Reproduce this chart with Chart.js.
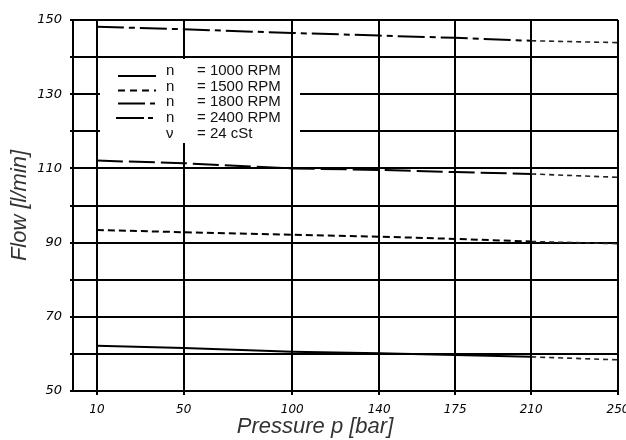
<!DOCTYPE html>
<html><head><meta charset="utf-8">
<script src="https://cdn.jsdelivr.net/npm/chart.js@4"></script>
<style>html,body{margin:0;padding:0;background:#fff}#wrap{width:626px;height:440px}</style>
</head><body><div id="wrap"><canvas id="c" width="626" height="440"></canvas></div>
<script>
// ---- data ----
const pressures = [10, 50, 100, 140, 175, 210, 250];
const flow1000 = [62.2, 61.6, 60.6, 60.2, 59.7, 59.2, 58.4];
const flow1500 = [93.4, 92.8, 92.1, 91.6, 91.0, 90.3, 89.7];
const flow1800 = [112.1, 111.4, 110.0, 109.6, 109.0, 108.5, 107.6];
const flow2400 = [148.2, 147.5, 146.5, 145.8, 145.2, 144.4, 143.9];
const seriesNames = ['n = 1000 RPM', 'n = 1500 RPM', 'n = 1800 RPM', 'n = 2400 RPM'];
const legendSymbols = ['n', 'n', 'n', 'n', 'ν'];
const legendTexts = ['= 1000 RPM', '= 1500 RPM', '= 1800 RPM', '= 2400 RPM', '= 24 cSt'];
const xTickValues = [10, 50, 100, 140, 175, 210, 250];
const yTickLabels = [50, 70, 90, 110, 130, 150];
const extrapolateFrom = 210;
const xTitle = 'Pressure p [bar]';
const yTitle = 'Flow [l/min]';

// ---- styles ----
const dashes = [[], [7, 4], [26, 6], [27, 5, 6, 5]];
const legendDashes = [[], [7, 5], [27, 5, 5, 100], [28, 4, 5, 100]];
const extDash = [5, 4];
const seriesValues = [flow1000, flow1500, flow1800, flow2400];

const datasets = seriesValues.map((vals, i) => ({
  label: seriesNames[i],
  data: pressures.map((p, k) => ({x: p, y: vals[k]})),
  borderColor: '#000',
  borderWidth: 2,
  borderDash: dashes[i],
  pointRadius: 0,
  tension: 0,
  fill: false,
  segment: {
    borderDash: ctx => ctx.p0.parsed.x >= extrapolateFrom ? extDash : undefined,
    borderWidth: ctx => ctx.p0.parsed.x >= extrapolateFrom ? 1.6 : undefined,
    borderColor: ctx => ctx.p0.parsed.x >= extrapolateFrom ? '#222' : undefined
  }
}));

const legendPlugin = {
  id: 'pumpLegend',
  beforeDatasetsDraw(chart) {
    const {ctx, scales: {x, y}} = chart;
    ctx.save();
    const by0 = Math.round(y.getPixelForValue(140)) + 2;
    const by1 = 143;
    ctx.fillStyle = '#fff';
    ctx.fillRect(100, by0, 200, by1 - by0);
    ctx.strokeStyle = '#000';
    ctx.lineWidth = 2;
    const xv = Math.round(x.getPixelForValue(100));
    ctx.beginPath(); ctx.moveTo(xv, by0); ctx.lineTo(xv, by1); ctx.stroke();

    const textY = [71, 86.5, 102, 117.5, 134];
    const lineY = [76, 90.5, 103.5, 118];
    const lineX0 = [118, 118, 118, 116];
    ctx.lineWidth = 2;
    for (let i = 0; i < lineY.length; i++) {
      ctx.setLineDash(legendDashes[i]);
      ctx.beginPath();
      ctx.moveTo(lineX0[i], lineY[i]);
      ctx.lineTo(156, lineY[i]);
      ctx.stroke();
    }
    ctx.setLineDash([]);
    ctx.font = '15px "Liberation Sans", Arial, sans-serif';
    ctx.fillStyle = '#111';
    ctx.textBaseline = 'middle';
    ctx.textAlign = 'left';
    for (let i = 0; i < legendTexts.length; i++) {
      ctx.fillText(legendSymbols[i], 166, textY[i]);
      ctx.fillText(legendTexts[i], 197, textY[i]);
    }
    ctx.restore();
  }
};

new Chart(document.getElementById('c'), {
  type: 'line',
  data: {datasets},
  plugins: [legendPlugin],
  options: {
    responsive: false,
    animation: false,
    devicePixelRatio: 1,
    layout: {padding: {left: 4, right: 0, top: 20, bottom: 0}},
    plugins: {
      legend: {display: false},
      tooltip: {enabled: false},
      title: {
        display: true,
        text: xTitle,
        position: 'bottom',
        color: '#333',
        font: {family: '"Liberation Sans", Arial, sans-serif', size: 22, style: 'italic', weight: 'normal', lineHeight: 1.2},
        padding: {top: 0, bottom: 0}
      }
    },
    scales: {
      x: {
        type: 'linear',
        min: -1,
        max: 250,
        afterBuildTicks: s => { s.ticks = xTickValues.map(v => ({value: v})); },
        afterFit: s => { s.height = 22.6; s.paddingRight = 8; s.paddingLeft = 0; },
        ticks: {
          color: '#000',
          padding: 8,
          maxRotation: 0,
          autoSkip: false,
          font: {family: '"DejaVu Sans", sans-serif', size: 12, style: 'italic'},
          callback: v => String(v)
        },
        grid: {color: '#000', lineWidth: 2, tickLength: 4, tickColor: '#000', tickWidth: 2},
        border: {color: '#000', width: 2}
      },
      y: {
        min: 50,
        max: 150,
        afterFit: s => { s.width = 69; },
        ticks: {
          stepSize: 10,
          color: '#000',
          padding: 8,
          font: {family: '"DejaVu Sans", sans-serif', size: 13, style: 'italic'},
          callback: v => yTickLabels.includes(v) ? String(v) : ''
        },
        grid: {color: '#000', lineWidth: 2, tickLength: 3, tickColor: '#000', tickWidth: 2},
        border: {color: '#000', width: 2},
        title: {
          display: true,
          text: yTitle,
          color: '#333',
          font: {family: '"Liberation Sans", Arial, sans-serif', size: 22, style: 'italic', lineHeight: 1.0},
          padding: {top: 5, bottom: 0}
        }
      }
    }
  }
});
</script>
</body></html>
